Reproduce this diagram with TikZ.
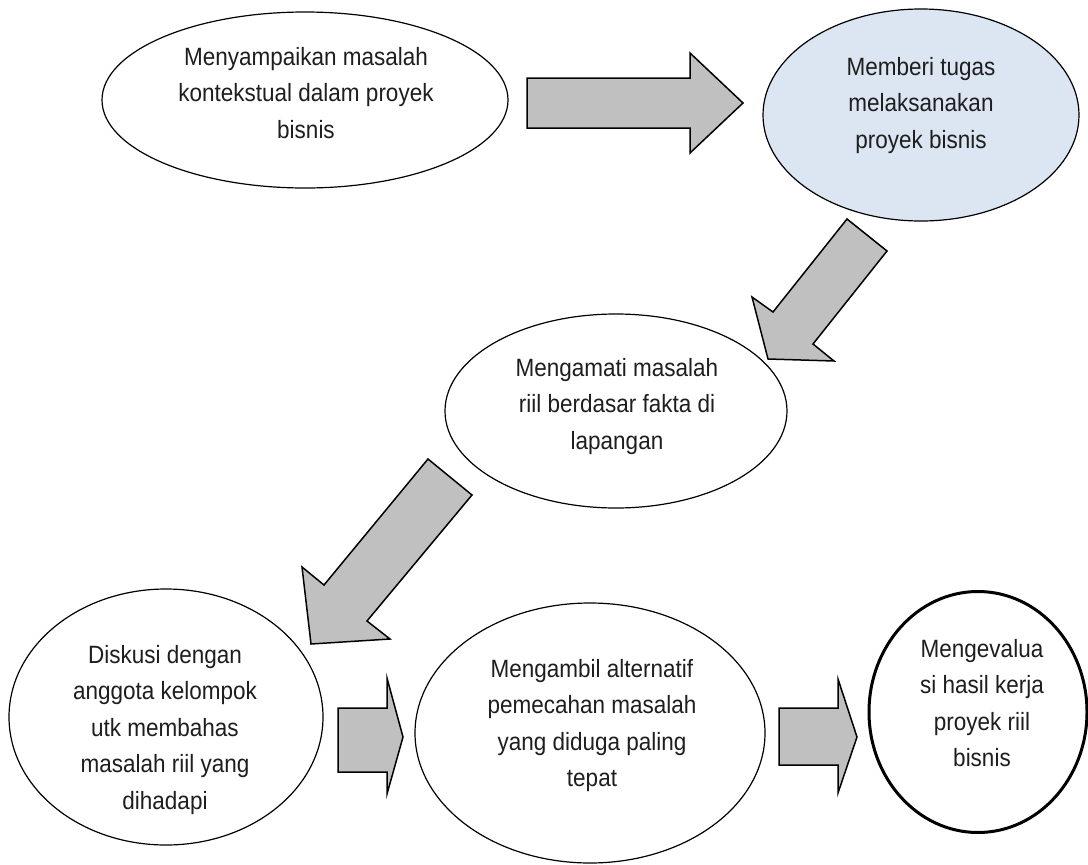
\documentclass[tikz,border=0pt]{standalone}
\usepackage{fontspec}
\setmainfont{Liberation Sans}[FakeStretch=0.9]
\usetikzlibrary{shapes.geometric}
\definecolor{arrowgray}{HTML}{C0C0C0}
\definecolor{lightblue}{HTML}{DCE6F2}
\definecolor{txt}{HTML}{1E1E1E}
\newcommand\textlines[1]{\begin{tabular}[t]{@{}c@{}}#1\end{tabular}}
\begin{document}
\begin{tikzpicture}[x=1pt,y=-1pt,
  bubble/.style={ellipse, draw=black, line width=1.2pt, fill=white, inner sep=0pt},
  lbl/.style={anchor=base, inner sep=0pt, text=txt, font=\fontsize{25}{36.6}\selectfont},
  blockarrow/.style={draw=black, fill=arrowgray, line width=1.5pt, line join=miter}]
\useasboundingbox (0,0) rectangle (1088,865);
% ellipses
\node[bubble, minimum width=406pt, minimum height=176pt] (e1) at (305,100) {};
\node[bubble, fill=lightblue, minimum width=316pt, minimum height=212pt] (e2) at (921,115) {};
\node[bubble, minimum width=342pt, minimum height=194pt] (e3) at (616,411) {};
\node[bubble, minimum width=314pt, minimum height=256pt] (e4) at (166,717) {};
\node[bubble, minimum width=350pt, minimum height=260pt] (e5) at (590,733) {};
\node[bubble, line width=3pt, minimum width=218pt, minimum height=241pt] (e6) at (978,712) {};
% texts
\node[lbl] (t1) at (306,65) {\textlines{Menyampaikan masalah\\kontekstual dalam proyek\\bisnis}};
\node[lbl] (t2) at (921,75) {\textlines{Memberi tugas\\melaksanakan\\proyek bisnis}};
\node[lbl] (t3) at (617,376) {\textlines{Mengamati masalah\\riil berdasar fakta di\\lapangan}};
\node[lbl] (t4) at (165,663) {\textlines{Diskusi dengan\\anggota kelompok\\utk membahas\\masalah riil yang\\dihadapi}};
\node[lbl] (t5) at (592,677) {\textlines{Mengambil alternatif\\pemecahan masalah\\yang diduga paling\\tepat}};
\node[lbl] (t6) at (982,657) {\textlines{Mengevalua\\si hasil kerja\\proyek riil\\bisnis}};
% block arrows
\draw[blockarrow] (527,78) -- (690,78) -- (690,53) -- (743,103) -- (690,153) -- (690,128) -- (527,128) -- cycle;
\draw[blockarrow] (847,219) -- (887,251) -- (813,344) -- (834,361) -- (768,359) -- (752,297) -- (773,312) -- cycle;
\draw[blockarrow] (428,459) -- (472,495) -- (367,621) -- (390,639) -- (311,644) -- (302,567) -- (324,585) -- cycle;
\draw[blockarrow] (338,708) -- (387,708) -- (387,678) -- (403,737) -- (387,794) -- (387,772) -- (338,772) -- cycle;
\draw[blockarrow] (779,708) -- (838,708) -- (838,679) -- (857,737) -- (838,793) -- (838,765) -- (779,765) -- cycle;
\end{tikzpicture}
\end{document}
